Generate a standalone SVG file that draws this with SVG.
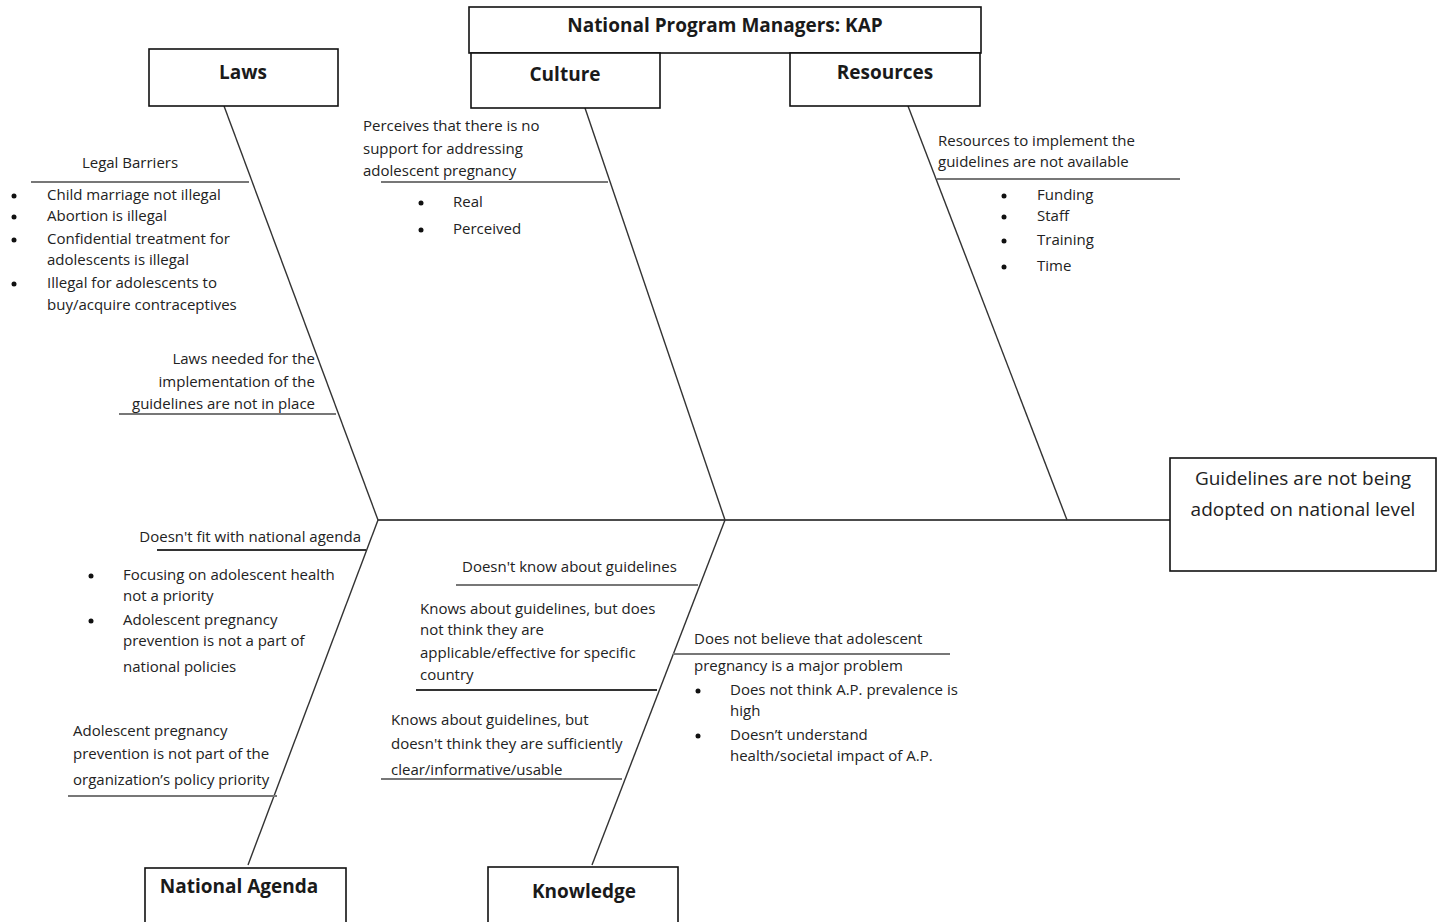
<svg xmlns="http://www.w3.org/2000/svg" width="1441" height="922" viewBox="0 0 1441 922">
<style>
.box{fill:#fff;stroke:#111;stroke-width:1.6}
.title{font-family:"Open Sans","Liberation Sans",sans-serif;font-weight:bold;font-size:19px;fill:#1a1a1a}
.t{font-family:"Open Sans","Liberation Sans",sans-serif;font-size:15px;fill:#222}
.big{font-family:"Open Sans","Liberation Sans",sans-serif;font-size:19px;fill:#222}
.bone{stroke:#333;stroke-width:1.4;fill:none}
.spine{stroke:#111;stroke-width:1.6;fill:none}
.sub{stroke:#777;stroke-width:2;fill:none}
.subd{stroke:#333;stroke-width:2;fill:none}
.dot{fill:#111}
</style>
<rect width="1441" height="922" fill="#fff"/>
<g id="connectors">
<line class="spine" x1="378" y1="520" x2="1170" y2="520"/>
<line class="bone" x1="224" y1="106" x2="378" y2="520"/>
<line class="bone" x1="585" y1="108" x2="725" y2="520"/>
<line class="bone" x1="908" y1="106" x2="1067" y2="520"/>
<line class="bone" x1="378" y1="520" x2="248" y2="865"/>
<line class="bone" x1="725" y1="520" x2="592" y2="865"/>
<line class="sub" x1="31" y1="182" x2="249" y2="182"/>
<line class="sub" x1="119" y1="414" x2="336" y2="414"/>
<line class="sub" x1="381" y1="182" x2="608" y2="182"/>
<line class="sub" x1="937" y1="179" x2="1180" y2="179"/>
<line class="subd" x1="157" y1="550" x2="366" y2="550"/>
<line class="sub" x1="68" y1="796" x2="277" y2="796"/>
<line class="sub" x1="456" y1="585" x2="698" y2="585"/>
<line class="subd" x1="416" y1="690" x2="657" y2="690"/>
<line class="sub" x1="381" y1="779" x2="622" y2="779"/>
<line class="sub" x1="673" y1="654" x2="950" y2="654"/>
</g>
<g id="kap">
<rect class="box" x="469" y="7" width="512" height="46"/>
<text class="title" x="725" y="32" text-anchor="middle">National Program Managers: KAP</text>
</g>
<g id="laws">
<rect class="box" x="149" y="49" width="189" height="57"/>
<text class="title" x="243" y="79" text-anchor="middle">Laws</text>
</g>
<g id="culture">
<rect class="box" x="471" y="53" width="189" height="55"/>
<text class="title" x="565" y="81" text-anchor="middle">Culture</text>
</g>
<g id="resources">
<rect class="box" x="790" y="53" width="190" height="53"/>
<text class="title" x="885" y="79" text-anchor="middle">Resources</text>
</g>
<g id="effect">
<rect class="box" x="1170" y="458" width="266" height="113"/>
<text class="big" x="1303" y="485" text-anchor="middle">Guidelines are not being</text>
<text class="big" x="1303" y="516" text-anchor="middle">adopted on national level</text>
</g>
<g id="national-agenda">
<rect class="box" x="145" y="868" width="201" height="60"/>
<text class="title" x="239" y="893" text-anchor="middle">National Agenda</text>
</g>
<g id="knowledge">
<rect class="box" x="488" y="867" width="190" height="60"/>
<text class="title" x="584" y="898" text-anchor="middle">Knowledge</text>
</g>
<g id="legal-barriers">
<text class="t" x="130" y="168" text-anchor="middle">Legal Barriers</text>
<circle class="dot" cx="14" cy="196" r="2.5"/>
<circle class="dot" cx="14" cy="217" r="2.5"/>
<circle class="dot" cx="14" cy="240" r="2.5"/>
<circle class="dot" cx="14" cy="284" r="2.5"/>
<text class="t" x="47" y="200">Child marriage not illegal</text>
<text class="t" x="47" y="221">Abortion is illegal</text>
<text class="t" x="47" y="244">Confidential treatment for</text>
<text class="t" x="47" y="265">adolescents is illegal</text>
<text class="t" x="47" y="288">Illegal for adolescents to</text>
<text class="t" x="47" y="310">buy/acquire contraceptives</text>
</g>
<g id="laws-needed">
<text class="t" x="315" y="364" text-anchor="end">Laws needed for the</text>
<text class="t" x="315" y="387" text-anchor="end">implementation of the</text>
<text class="t" x="315" y="409" text-anchor="end">guidelines are not in place</text>
</g>
<g id="no-support">
<text class="t" x="363" y="131">Perceives that there is no</text>
<text class="t" x="363" y="154">support for addressing</text>
<text class="t" x="363" y="176">adolescent pregnancy</text>
<circle class="dot" cx="421" cy="203" r="2.5"/>
<circle class="dot" cx="421" cy="230" r="2.5"/>
<text class="t" x="453" y="207">Real</text>
<text class="t" x="453" y="234">Perceived</text>
</g>
<g id="no-resources">
<text class="t" x="938" y="146">Resources to implement the</text>
<text class="t" x="938" y="167">guidelines are not available</text>
<circle class="dot" cx="1004" cy="196" r="2.5"/>
<circle class="dot" cx="1004" cy="217" r="2.5"/>
<circle class="dot" cx="1004" cy="241" r="2.5"/>
<circle class="dot" cx="1004" cy="267" r="2.5"/>
<text class="t" x="1037" y="200">Funding</text>
<text class="t" x="1037" y="221">Staff</text>
<text class="t" x="1037" y="245">Training</text>
<text class="t" x="1037" y="271">Time</text>
</g>
<g id="not-fit">
<text class="t" x="361" y="542" text-anchor="end">Doesn't fit with national agenda</text>
<circle class="dot" cx="91" cy="576" r="2.5"/>
<circle class="dot" cx="91" cy="621" r="2.5"/>
<text class="t" x="123" y="580">Focusing on adolescent health</text>
<text class="t" x="123" y="601">not a priority</text>
<text class="t" x="123" y="625">Adolescent pregnancy</text>
<text class="t" x="123" y="646">prevention is not a part of</text>
<text class="t" x="123" y="672">national policies</text>
</g>
<g id="org-priority">
<text class="t" x="73" y="736">Adolescent pregnancy</text>
<text class="t" x="73" y="759">prevention is not part of the</text>
<text class="t" x="73" y="785">organization’s policy priority</text>
</g>
<g id="not-know">
<text class="t" x="462" y="572">Doesn't know about guidelines</text>
</g>
<g id="not-applicable">
<text class="t" x="420" y="614">Knows about guidelines, but does</text>
<text class="t" x="420" y="635">not think they are</text>
<text class="t" x="420" y="658">applicable/effective for specific</text>
<text class="t" x="420" y="680">country</text>
</g>
<g id="not-clear">
<text class="t" x="391" y="725">Knows about guidelines, but</text>
<text class="t" x="391" y="749">doesn't think they are sufficiently</text>
<text class="t" x="391" y="775">clear/informative/usable</text>
</g>
<g id="not-problem">
<text class="t" x="694" y="644">Does not believe that adolescent</text>
<text class="t" x="694" y="671">pregnancy is a major problem</text>
<circle class="dot" cx="698" cy="691" r="2.5"/>
<circle class="dot" cx="698" cy="736" r="2.5"/>
<text class="t" x="730" y="695">Does not think A.P. prevalence is</text>
<text class="t" x="730" y="716">high</text>
<text class="t" x="730" y="740">Doesn’t understand</text>
<text class="t" x="730" y="761">health/societal impact of A.P.</text>
</g>
</svg>
